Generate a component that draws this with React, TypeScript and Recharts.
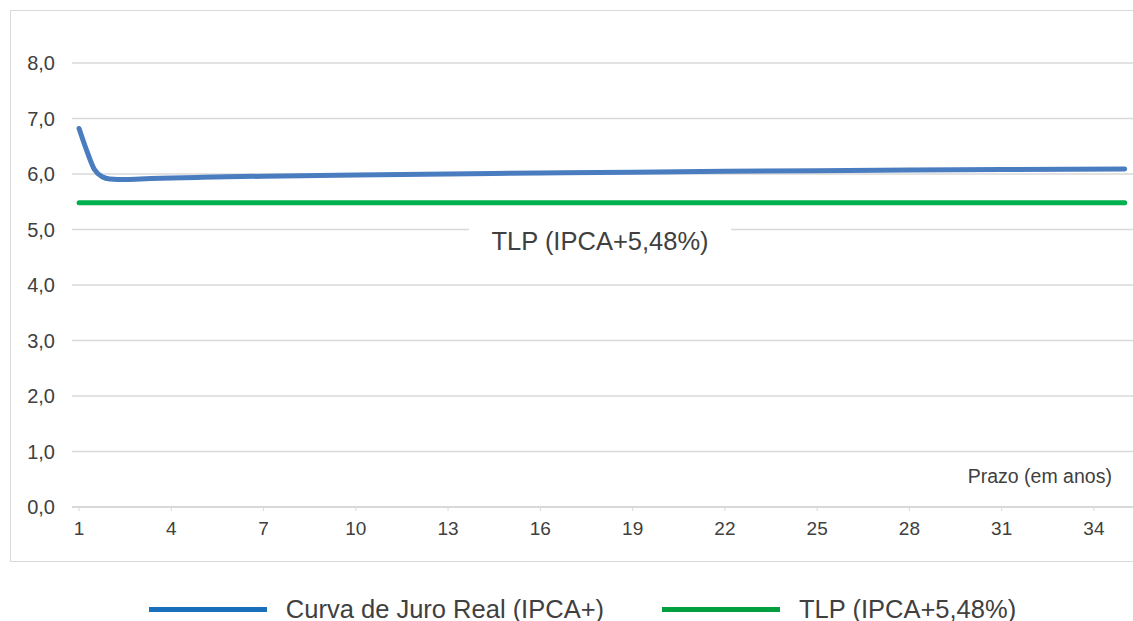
import React from 'react';
import { LineChart, Line, XAxis, YAxis, CartesianGrid, ReferenceDot } from 'recharts';

const prazo = [1, 1.25, 1.5, 1.75, 2, 2.5, 3, 4, 5, 7, 10, 13, 16, 19, 22, 25, 28, 31, 35];
const curvaJuroReal = [6.82, 6.42, 6.08, 5.95, 5.91, 5.9, 5.91, 5.93, 5.94, 5.96, 5.98, 6.0, 6.02, 6.03, 6.05, 6.06, 6.07, 6.08, 6.09];
const tlpValue = 5.48;
const xTicks = [1, 4, 7, 10, 13, 16, 19, 22, 25, 28, 31, 34];
const yTicks = [0, 1, 2, 3, 4, 5, 6, 7, 8];
const seriesNames = ['Curva de Juro Real (IPCA+)', 'TLP (IPCA+5,48%)'];
const legendColors = ['#1a6fba', '#00a040'];
const tlpLabel = 'TLP (IPCA+5,48%)';
const axisTitle = 'Prazo (em anos)';

const data = prazo.map((p, i) => ({ prazo: p, curva: curvaJuroReal[i], tlp: tlpValue }));

const FONT = '"Liberation Sans", Arial, sans-serif';

const fmt = (v: number) => v.toFixed(1).replace('.', ',');

const BoxLabel = (props: any) => {
  const { cx, cy, text, w, h, size } = props;
  return (
    <g>
      <rect x={cx - w / 2} y={cy - h / 2} width={w} height={h} fill="#ffffff" />
      <text x={cx} y={cy} textAnchor="middle" dominantBaseline="central" fontFamily={FONT} fontSize={size} fill="#404040">
        {text}
      </text>
    </g>
  );
};

export default function App() {
  return (
    <div style={{ position: 'absolute', left: 0, top: 0, width: 1133, height: 621, overflow: 'hidden', background: '#fff' }}>
      <div style={{ position: 'absolute', left: 10, top: 10, width: 1140, height: 552, border: '1px solid #d9d9d9', boxSizing: 'border-box' }} />
      <div style={{ position: 'absolute', left: 0, top: 0 }}>
        <LineChart width={1133} height={621} data={data} margin={{ top: 63, right: 0, bottom: 84, left: 0 }}>
          <CartesianGrid vertical={false} stroke="#d9d9d9" strokeWidth={1.5} />
          <XAxis
            dataKey="prazo"
            type="number"
            domain={[0.77, 35.27]}
            ticks={xTicks}
            interval={0}
            height={30}
            axisLine={{ stroke: '#d9d9d9', strokeWidth: 2 }}
            tickLine={{ stroke: '#d9d9d9' }}
            tickSize={4}
            tickMargin={11}
            tick={{ fontFamily: FONT, fontSize: 19, fill: '#404040' }}
          />
          <YAxis
            domain={[0, 8]}
            ticks={yTicks}
            interval={0}
            width={72}
            axisLine={false}
            tickLine={false}
            tickSize={0}
            tickMargin={17}
            tickFormatter={fmt}
            tick={{ fontFamily: FONT, fontSize: 20, fill: '#404040' }}
          />
          <Line dataKey="tlp" stroke="#00b04f" strokeWidth={5} dot={false} isAnimationActive={false} strokeLinecap="round" />
          <Line type="monotone" dataKey="curva" stroke="#4a7dc0" strokeWidth={5} dot={false} isAnimationActive={false} strokeLinecap="round" />
          <ReferenceDot
            x={17.94}
            y={4.79}
            r={0}
            ifOverflow="visible"
            shape={(p: any) => <BoxLabel cx={p.cx} cy={p.cy} text={tlpLabel} w={262} h={34} size={25.5} />}
          />
          <ReferenceDot
            x={32.24}
            y={0.56}
            r={0}
            ifOverflow="visible"
            shape={(p: any) => <BoxLabel cx={p.cx} cy={p.cy} text={axisTitle} w={164} h={30} size={19.5} />}
          />
        </LineChart>
      </div>
      <div style={{ position: 'absolute', left: 16, top: 594, width: 1133, height: 30, display: 'flex', justifyContent: 'center', alignItems: 'center', fontFamily: FONT, fontSize: 25.5, color: '#404040' }}>
        {seriesNames.map((n, i) => (
          <div key={n} style={{ display: 'flex', alignItems: 'center', marginLeft: i === 0 ? 0 : 58 }}>
            <div style={{ width: 118, height: 5, background: legendColors[i], marginRight: 19 }} />
            <span>{n}</span>
          </div>
        ))}
      </div>
    </div>
  );
}
